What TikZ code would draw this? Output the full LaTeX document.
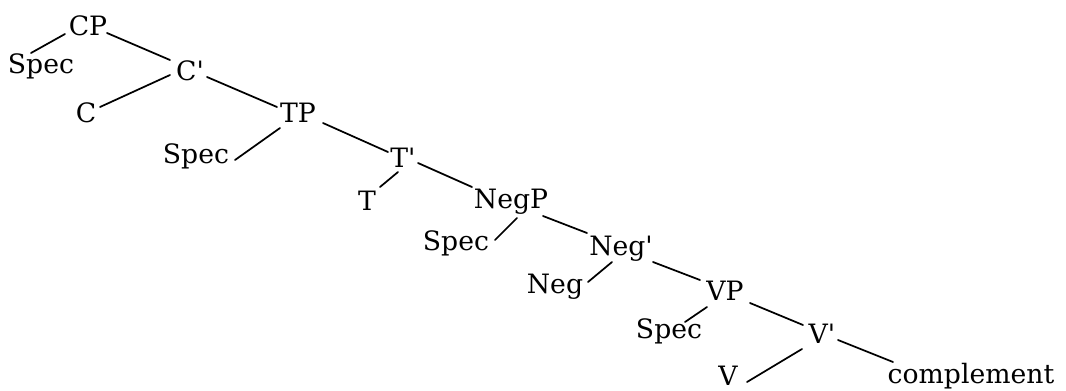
\documentclass[tikz,border=0pt]{standalone}
\usepackage{fontspec}
\setmainfont{DejaVu Serif}[Ligatures=TeXOff]
\usetikzlibrary{calc}
\begin{document}
\begin{tikzpicture}[x=0.75pt,y=-0.75pt,
  lbl/.style={anchor=base,inner sep=0pt,font=\fontsize{20}{24}\selectfont},
  edge/.style={line width=1.3pt,line cap=round}]
\useasboundingbox (0,0) rectangle (1066,390);
\node[lbl] (CP) at (88,35) {CP};
\node[lbl] (Spec1) at (41,73) {Spec};
\node[lbl] (Cbar) at (190,80) {C'};
\node[lbl] (C) at (86,122) {C};
\node[lbl] (TP) at (298,122) {TP};
\node[lbl] (Spec2) at (196,163) {Spec};
\node[lbl] (Tbar) at (403,167) {T'};
\node[lbl] (T) at (367,210) {T};
\node[lbl] (NegP) at (511,208) {NegP};
\node[lbl] (Spec3) at (456,250) {Spec};
\node[lbl] (Negbar) at (621,255) {Neg'};
\node[lbl] (Neg) at (555,293) {Neg};
\node[lbl] (VP) at (725,300) {VP};
\node[lbl] (Spec4) at (669,338) {Spec};
\node[lbl] (Vbar) at (822,343) {V'};
\node[lbl] (V) at (728,385) {V};
\node[lbl] (compl) at (971,383) {complement};

\draw[edge] ($(CP.base)+(-23,-1)$) -- ($(Spec1.base)+(-10,-20)$);
\draw[edge] ($(CP.base)+(19,-2)$) -- ($(Cbar.base)+(-20,-20)$);
\draw[edge] ($(Cbar.base)+(-20,-5)$) -- ($(C.base)+(14,-15)$);
\draw[edge] ($(Cbar.base)+(17,-3)$) -- ($(TP.base)+(-21,-15)$);
\draw[edge] ($(TP.base)+(-18,6)$) -- ($(Spec2.base)+(39,-3)$);
\draw[edge] ($(TP.base)+(25,1)$) -- ($(Tbar.base)+(-15,-15)$);
\draw[edge] ($(Tbar.base)+(-5,5)$) -- ($(T.base)+(13,-23)$);
\draw[edge] ($(Tbar.base)+(15,-4)$) -- ($(NegP.base)+(-39,-21)$);
\draw[edge] ($(NegP.base)+(6,10)$) -- ($(Spec3.base)+(39,-10)$);
\draw[edge] ($(NegP.base)+(32,8)$) -- ($(Negbar.base)+(-34,-22)$);
\draw[edge] ($(Negbar.base)+(-9,7)$) -- ($(Neg.base)+(33,-11)$);
\draw[edge] ($(Negbar.base)+(32,7)$) -- ($(VP.base)+(-25,-20)$);
\draw[edge] ($(VP.base)+(-18,7)$) -- ($(Spec4.base)+(16,-16)$);
\draw[edge] ($(VP.base)+(25,3)$) -- ($(Vbar.base)+(-19,-18)$);
\draw[edge] ($(Vbar.base)+(-20,6)$) -- ($(V.base)+(19,-3)$);
\draw[edge] ($(Vbar.base)+(16,-3)$) -- ($(compl.base)+(-78,-21)$);
\end{tikzpicture}
\end{document}
